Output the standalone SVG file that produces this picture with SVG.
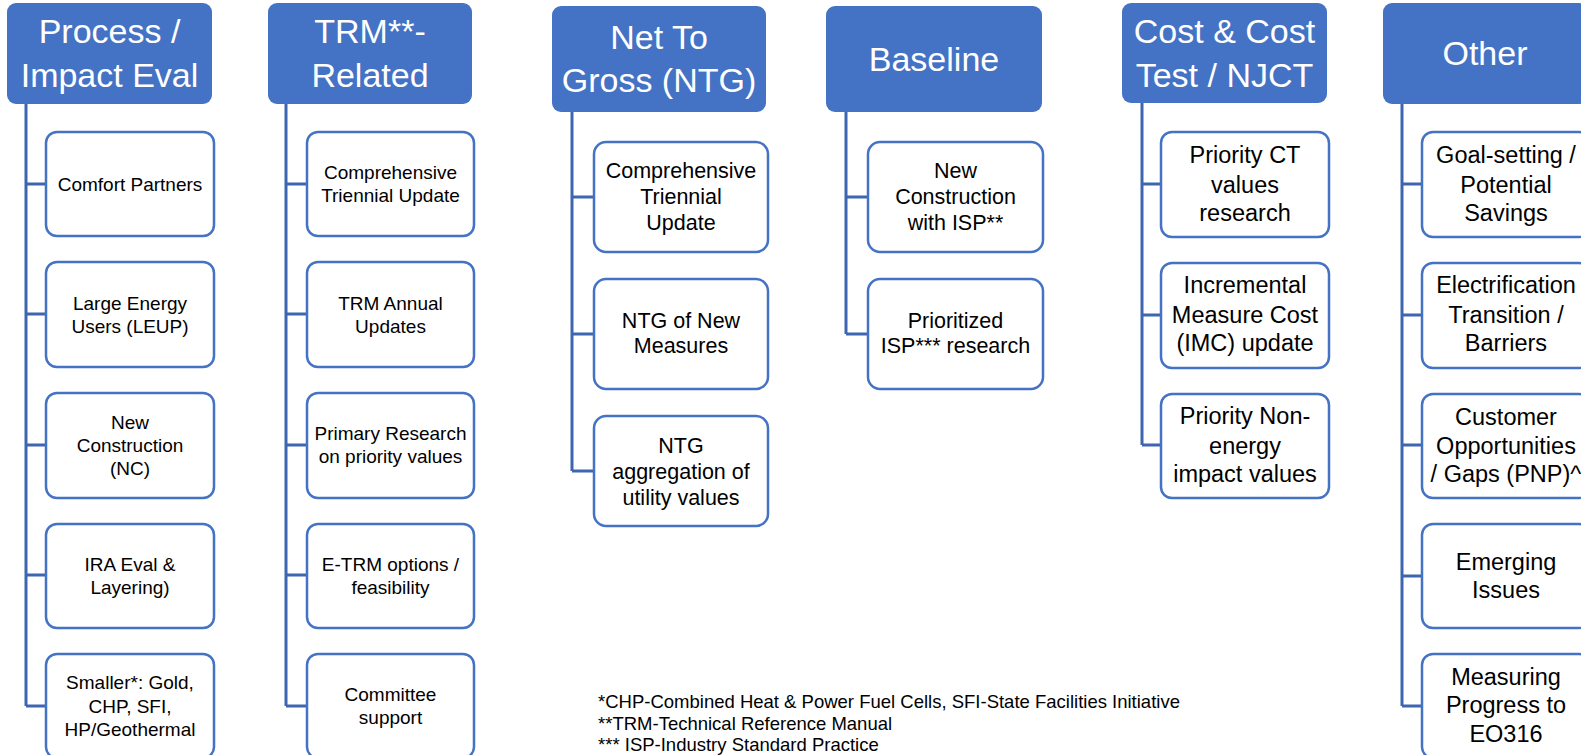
<svg xmlns="http://www.w3.org/2000/svg" width="1581" height="755" viewBox="0 0 1581 755">
<style>
.hdr{fill:#4472C4;}
.hdr-t{fill:#FFFFFF;font-family:"Liberation Sans",Arial,sans-serif;font-size:34px;text-anchor:middle;}
.box{fill:#FFFFFF;stroke:#4472C4;stroke-width:2.5;}
.t19{fill:#000;font-family:"Liberation Sans",Arial,sans-serif;font-size:19px;text-anchor:middle;}
.t22{fill:#000;font-family:"Liberation Sans",Arial,sans-serif;font-size:21.5px;text-anchor:middle;}
.t23{fill:#000;font-family:"Liberation Sans",Arial,sans-serif;font-size:23.5px;text-anchor:middle;}
.conn{fill:none;stroke:#3E66B0;stroke-width:3;}
.note{fill:#000;font-family:"Liberation Sans",Arial,sans-serif;font-size:18.5px;}
</style>
<rect width="1581" height="755" fill="#FFFFFF"/>
<g id="connectors">
<path class="conn" d="M26,104 V706 M26,184 H46 M26,314 H46 M26,445 H46 M26,575 H46 M26,706 H46"/>
<path class="conn" d="M286,104 V706 M286,184 H307 M286,314 H307 M286,445 H307 M286,575 H307 M286,706 H307"/>
<path class="conn" d="M572,112 V471 M572,197 H594 M572,334 H594 M572,471 H594"/>
<path class="conn" d="M846,112 V334 M846,197 H868 M846,334 H868"/>
<path class="conn" d="M1142,103 V445 M1142,184 H1161 M1142,315 H1161 M1142,445 H1161"/>
<path class="conn" d="M1402,104 V706 M1402,184 H1422 M1402,315 H1422 M1402,445 H1422 M1402,576 H1422 M1402,706 H1422"/>
</g>
<g id="h1"><rect class="hdr" x="7" y="3" width="205" height="101" rx="9"/><text class="hdr-t" x="109.5" y="43">Process /</text><text class="hdr-t" x="109.5" y="87">Impact Eval</text></g>
<g id="h2"><rect class="hdr" x="268" y="3" width="204" height="101" rx="9"/><text class="hdr-t" x="370" y="43">TRM**-</text><text class="hdr-t" x="370" y="87">Related</text></g>
<g id="h3"><rect class="hdr" x="552" y="6" width="214" height="106" rx="9"/><text class="hdr-t" x="659" y="49">Net To</text><text class="hdr-t" x="659" y="92">Gross (NTG)</text></g>
<g id="h4"><rect class="hdr" x="826" y="6" width="216" height="106" rx="9"/><text class="hdr-t" x="934" y="71">Baseline</text></g>
<g id="h5"><rect class="hdr" x="1122" y="3" width="205" height="100" rx="9"/><text class="hdr-t" x="1224.5" y="43">Cost &amp; Cost</text><text class="hdr-t" x="1224.5" y="87">Test / NJCT</text></g>
<g id="h6"><rect class="hdr" x="1383" y="3" width="205" height="101" rx="9"/><text class="hdr-t" x="1485" y="65">Other</text></g>

<g id="c1-1"><rect class="box" x="46" y="132" width="168" height="104" rx="11"/><text class="t19" x="130" y="191">Comfort Partners</text></g>
<g id="c1-2"><rect class="box" x="46" y="262" width="168" height="105" rx="11"/><text class="t19" x="130" y="310">Large Energy</text><text class="t19" x="130" y="333">Users (LEUP)</text></g>
<g id="c1-3"><rect class="box" x="46" y="393" width="168" height="105" rx="11"/><text class="t19" x="130" y="429">New</text><text class="t19" x="130" y="452">Construction</text><text class="t19" x="130" y="475">(NC)</text></g>
<g id="c1-4"><rect class="box" x="46" y="524" width="168" height="104" rx="11"/><text class="t19" x="130" y="571">IRA Eval &amp;</text><text class="t19" x="130" y="594">Layering)</text></g>
<g id="c1-5"><rect class="box" x="46" y="654" width="168" height="104" rx="11"/><text class="t19" x="130" y="689">Smaller*: Gold,</text><text class="t19" x="130" y="713">CHP, SFI,</text><text class="t19" x="130" y="736">HP/Geothermal</text></g>

<g id="c2-1"><rect class="box" x="307" y="132" width="167" height="104" rx="11"/><text class="t19" x="390.5" y="179">Comprehensive</text><text class="t19" x="390.5" y="202">Triennial Update</text></g>
<g id="c2-2"><rect class="box" x="307" y="262" width="167" height="105" rx="11"/><text class="t19" x="390.5" y="310">TRM Annual</text><text class="t19" x="390.5" y="333">Updates</text></g>
<g id="c2-3"><rect class="box" x="307" y="393" width="167" height="105" rx="11"/><text class="t19" x="390.5" y="440">Primary Research</text><text class="t19" x="390.5" y="463">on priority values</text></g>
<g id="c2-4"><rect class="box" x="307" y="524" width="167" height="104" rx="11"/><text class="t19" x="390.5" y="571">E-TRM options /</text><text class="t19" x="390.5" y="594">feasibility</text></g>
<g id="c2-5"><rect class="box" x="307" y="654" width="167" height="104" rx="11"/><text class="t19" x="390.5" y="701">Committee</text><text class="t19" x="390.5" y="724">support</text></g>

<g id="c3-1"><rect class="box" x="594" y="142" width="174" height="110" rx="12"/><text class="t22" x="681" y="178">Comprehensive</text><text class="t22" x="681" y="204">Triennial</text><text class="t22" x="681" y="230">Update</text></g>
<g id="c3-2"><rect class="box" x="594" y="279" width="174" height="110" rx="12"/><text class="t22" x="681" y="328">NTG of New</text><text class="t22" x="681" y="353">Measures</text></g>
<g id="c3-3"><rect class="box" x="594" y="416" width="174" height="110" rx="12"/><text class="t22" x="681" y="453">NTG</text><text class="t22" x="681" y="479">aggregation of</text><text class="t22" x="681" y="505">utility values</text></g>

<g id="c4-1"><rect class="box" x="868" y="142" width="175" height="110" rx="12"/><text class="t22" x="955.5" y="178">New</text><text class="t22" x="955.5" y="204">Construction</text><text class="t22" x="955.5" y="230">with ISP**</text></g>
<g id="c4-2"><rect class="box" x="868" y="279" width="175" height="110" rx="12"/><text class="t22" x="955.5" y="328">Prioritized</text><text class="t22" x="955.5" y="353">ISP*** research</text></g>

<g id="c5-1"><rect class="box" x="1161" y="132" width="168" height="105" rx="11"/><text class="t23" x="1245" y="163">Priority CT</text><text class="t23" x="1245" y="193">values</text><text class="t23" x="1245" y="221">research</text></g>
<g id="c5-2"><rect class="box" x="1161" y="263" width="168" height="105" rx="11"/><text class="t23" x="1245" y="293">Incremental</text><text class="t23" x="1245" y="323">Measure Cost</text><text class="t23" x="1245" y="351">(IMC) update</text></g>
<g id="c5-3"><rect class="box" x="1161" y="394" width="168" height="104" rx="11"/><text class="t23" x="1245" y="424">Priority Non-</text><text class="t23" x="1245" y="454">energy</text><text class="t23" x="1245" y="482">impact values</text></g>

<g id="c6-1"><rect class="box" x="1422" y="132" width="168" height="105" rx="11"/><text class="t23" x="1506" y="163">Goal-setting /</text><text class="t23" x="1506" y="193">Potential</text><text class="t23" x="1506" y="221">Savings</text></g>
<g id="c6-2"><rect class="box" x="1422" y="263" width="168" height="105" rx="11"/><text class="t23" x="1506" y="293">Electrification</text><text class="t23" x="1506" y="323">Transition /</text><text class="t23" x="1506" y="351">Barriers</text></g>
<g id="c6-3"><rect class="box" x="1422" y="394" width="168" height="104" rx="11"/><text class="t23" x="1506" y="425">Customer</text><text class="t23" x="1506" y="454">Opportunities</text><text class="t23" x="1506" y="482">/ Gaps (PNP)^</text></g>
<g id="c6-4"><rect class="box" x="1422" y="524" width="168" height="104" rx="11"/><text class="t23" x="1506" y="570">Emerging</text><text class="t23" x="1506" y="598">Issues</text></g>
<g id="c6-5"><rect class="box" x="1422" y="654" width="168" height="104" rx="11"/><text class="t23" x="1506" y="685">Measuring</text><text class="t23" x="1506" y="713">Progress to</text><text class="t23" x="1506" y="742">EO316</text></g>

<g id="notes">
<text class="note" x="598" y="708">*CHP-Combined Heat &amp; Power Fuel Cells, SFI-State Facilities Initiative</text>
<text class="note" x="598" y="730">**TRM-Technical Reference Manual</text>
<text class="note" x="598" y="751">*** ISP-Industry Standard Practice</text>
</g>
</svg>
